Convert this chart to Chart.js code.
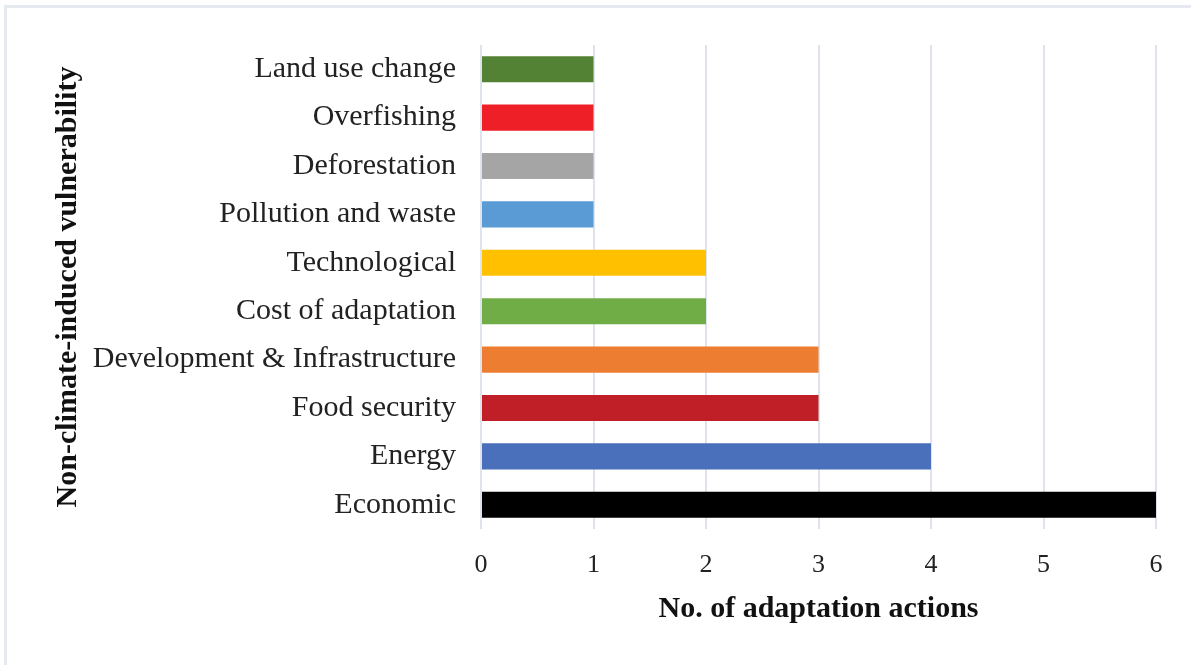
<!DOCTYPE html>
<html lang="en">
<head>
  <meta charset="UTF-8" />
  <title>Non-climate-induced vulnerability</title>
  <script src="https://cdn.jsdelivr.net/npm/chart.js"></script>
  <style>
    body {
      margin: 0;
      background: #ffffff;
    }

    .frame {
      position: absolute;
      left: 4px;
      top: 5px;
      width: 1191px;
      height: 665px;
      border-top: 3px solid #e6e9f0;
      border-left: 3px solid #e6e9f0;
    }

    .chart-box {
      position: absolute;
      left: 0;
      top: 0;
      width: 1191px;
      height: 665px;
    }
  </style>
</head>
<body>
  <div class="frame"></div>
  <div class="chart-box">
    <canvas id="vulnChart"></canvas>
  </div>

  <script>
    const categories = [
      'Land use change', 'Overfishing', 'Deforestation', 'Pollution and waste',
      'Technological', 'Cost of adaptation', 'Development & Infrastructure',
      'Food security', 'Energy', 'Economic'
    ];
    const actionCounts = [1, 1, 1, 1, 2, 2, 3, 3, 4, 6];
    const barColors = [
      '#548235', '#ee1f26', '#a5a5a5', '#5b9bd5', '#ffc000',
      '#70ad47', '#ed7d31', '#c01f27', '#4a6fbb', '#000000'
    ];
    const xTicks = [0, 1, 2, 3, 4, 5, 6];

    const serif = "'Liberation Serif', 'Times New Roman', serif";

    new Chart(document.getElementById('vulnChart'), {
      type: 'bar',
      data: {
        labels: categories,
        datasets: [{
          data: actionCounts,
          backgroundColor: barColors,
          barPercentage: 0.54,
          categoryPercentage: 1
        }]
      },
      options: {
        indexAxis: 'y',
        responsive: true,
        maintainAspectRatio: false,
        animation: false,
        layout: { padding: { left: 46, top: 45, right: 35, bottom: 20 } },
        plugins: {
          legend: { display: false },
          tooltip: { enabled: false }
        },
        scales: {
          x: {
            min: xTicks[0],
            max: xTicks[xTicks.length - 1],
            afterBuildTicks: (scale) => { scale.ticks = xTicks.map(v => ({ value: v })); },
            afterFit: (scale) => { scale.height = 116; },
            grid: { color: '#dfe4ec', lineWidth: 2, drawTicks: false },
            border: { display: false },
            ticks: {
              padding: 21,
              color: '#222',
              font: { family: serif, size: 26 }
            },
            title: {
              display: true,
              text: 'No. of adaptation actions',
              color: '#111',
              font: { family: serif, size: 30, weight: 'bold' },
              padding: { top: 0, bottom: 18 }
            }
          },
          y: {
            afterFit: (scale) => { scale.width = 435; },
            grid: { display: false, drawTicks: false },
            border: { display: false },
            ticks: {
              padding: 25,
              color: '#222',
              font: { family: serif, size: 30 }
            },
            title: {
              display: true,
              text: 'Non-climate-induced vulnerability',
              color: '#111',
              font: { family: serif, size: 30, weight: 'bold' },
              padding: { top: 4, bottom: 4 }
            }
          }
        }
      }
    });
  </script>
</body>
</html>
